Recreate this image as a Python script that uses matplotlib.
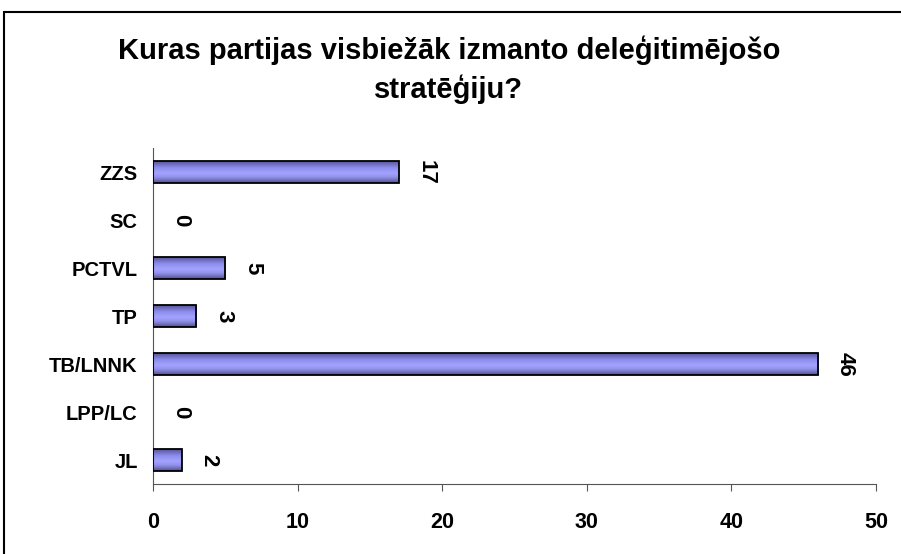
import matplotlib
matplotlib.use("Agg")
import matplotlib.pyplot as plt
import numpy as np
from matplotlib.patches import Rectangle
from matplotlib.colors import LinearSegmentedColormap

categories = ["JL", "LPP/LC", "TB/LNNK", "TP", "PCTVL", "SC", "ZZS"]
values = [2, 0, 46, 3, 5, 0, 17]
xticks = [0, 10, 20, 30, 40, 50]
title = "Kuras partijas visbiežāk izmanto deleģitimējošo\nstratēģiju?"

plt.rcParams['font.family'] = ['Liberation Sans', 'DejaVu Sans']
fig = plt.figure(figsize=(9.01, 5.54), dpi=100)
ax = fig.add_axes([153/901, 1-484/554, (876-153)/901, (484-148)/554])

bar_cmap = LinearSegmentedColormap.from_list(
    'barshade', [(0.0, '#50508c'), (0.25, '#8f8fe8'), (0.45, '#a4a4ff'),
                 (0.7, '#8c8cee'), (1.0, '#56569a')])
grad = np.linspace(1, 0, 64).reshape(-1, 1)
h = 0.44
y = list(range(len(categories)))
for yi, v in zip(y, values):
    if v > 0:
        ax.imshow(grad, extent=[0, v, yi - h/2, yi + h/2], aspect='auto',
                  cmap=bar_cmap, vmin=0, vmax=1, interpolation='bilinear', zorder=2)
ax.barh(y, values, height=h, facecolor='none',
        edgecolor=['black' if v > 0 else 'none' for v in values], linewidth=1.3, zorder=3)
for yi, v in zip(y, values):
    ax.annotate(str(v), (v, yi), xytext=(12, 0), textcoords='offset points',
                rotation=-90, ha='left', va='center', fontsize=16, fontweight='bold')

ax.set_xlim(0, 50)
ax.set_ylim(-0.5, len(categories) - 0.5)
ax.set_xticks(xticks)
ax.set_xticklabels([str(t) for t in xticks], fontsize=15.5, fontweight='bold')
ax.set_yticks(y)
ax.set_yticklabels(categories, fontsize=14.5, fontweight='bold')
ax.tick_params(axis='x', length=5, pad=15, color='#555555')
ax.tick_params(axis='y', length=0, pad=11)
for s in ['top', 'right']:
    ax.spines[s].set_visible(False)
for s in ['left', 'bottom']:
    ax.spines[s].set_color('#555555')

fig.text(0.498, 1-70/554, title, ha='center', va='center', fontsize=21,
         fontweight='bold', linespacing=1.4)

fig.patches.append(Rectangle((4/901, -0.1), 1.2, 1 - 12/554 + 0.1, transform=fig.transFigure,
                             fill=False, edgecolor='black', linewidth=1.5, clip_on=False))
fig.savefig("out.png", dpi=100)
